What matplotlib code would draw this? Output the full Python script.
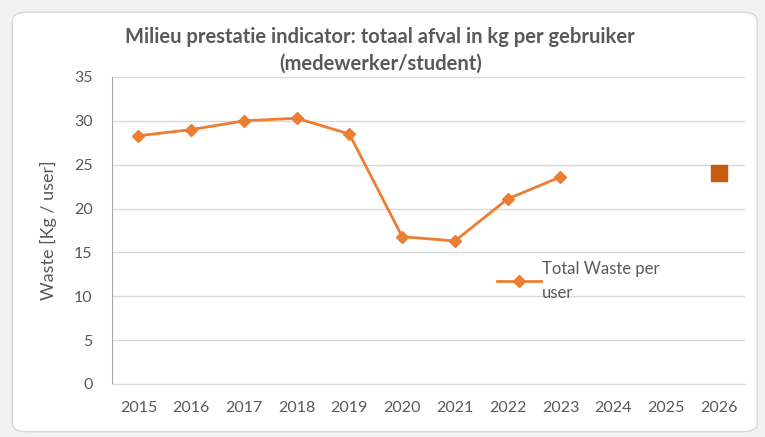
import matplotlib.pyplot as plt
from matplotlib.patches import FancyBboxPatch

years = ['2015', '2016', '2017', '2018', '2019', '2020', '2021', '2022', '2023',
         '2024', '2025', '2026']
waste = [28.3, 29.0, 30.0, 30.3, 28.5, 16.8, 16.3, 21.1, 23.6]
target_year = '2026'
target_value = 24.1

plt.rcParams['font.family'] = ['Lato', 'DejaVu Sans']
grey = '#595959'

fig = plt.figure(figsize=(7.65, 4.37), dpi=100)
fig.patch.set_facecolor('#F2F2F2')
frame = FancyBboxPatch((0.016, 0.012), 0.974, 0.96, boxstyle='round,pad=0,rounding_size=0.02',
                       transform=fig.transFigure, facecolor='white', edgecolor='#D9D9D9',
                       linewidth=1, zorder=-1)
fig.patches.append(frame)

ax = fig.add_axes([0.1464, 0.1213, 0.8275, 0.7025])
ax.set_facecolor('none')

pos = list(range(len(years)))
ax.plot(pos[:len(waste)], waste, color='#ED7D31', linewidth=2, marker='D',
        markersize=6, label='Total Waste per\nuser')
ax.plot([years.index(target_year)], [target_value], linestyle='none', marker='s',
        markersize=11, color='#C55A11')

ax.set_xlim(-0.5, len(years) - 0.5)
ax.set_ylim(0, 35)
ax.set_yticks(range(0, 36, 5))
ax.set_xticks(pos)
ax.set_xticklabels(years)
ax.grid(axis='y', color='#D9D9D9', linewidth=1)
ax.set_axisbelow(True)
ax.tick_params(length=0, labelsize=11.5, labelcolor=grey)
ax.tick_params(axis='x', pad=12)
ax.tick_params(axis='y', pad=14)
for s in ['top', 'right']:
    ax.spines[s].set_visible(False)
ax.spines['left'].set_color('#A6A6A6')
ax.spines['bottom'].set_color('#D9D9D9')

ax.set_ylabel('Waste [Kg / user]', fontsize=13, color=grey, labelpad=12)

fig.text(0.497, 0.885, 'Milieu prestatie indicator: totaal afval in kg per gebruiker\n(medewerker/student)',
         ha='center', va='center', fontsize=14.5, fontweight='bold', color=grey,
         linespacing=1.45)

handles, labels = ax.get_legend_handles_labels()
leg = ax.legend(handles[:1], labels[:1], loc='upper left', bbox_to_anchor=(0.585, 0.45),
                frameon=False, fontsize=12, labelcolor=grey, handlelength=2.6,
                handletextpad=0.1)
for t in leg.get_texts():
    t.set_linespacing(1.6)

fig.savefig('out.png', dpi=100)
